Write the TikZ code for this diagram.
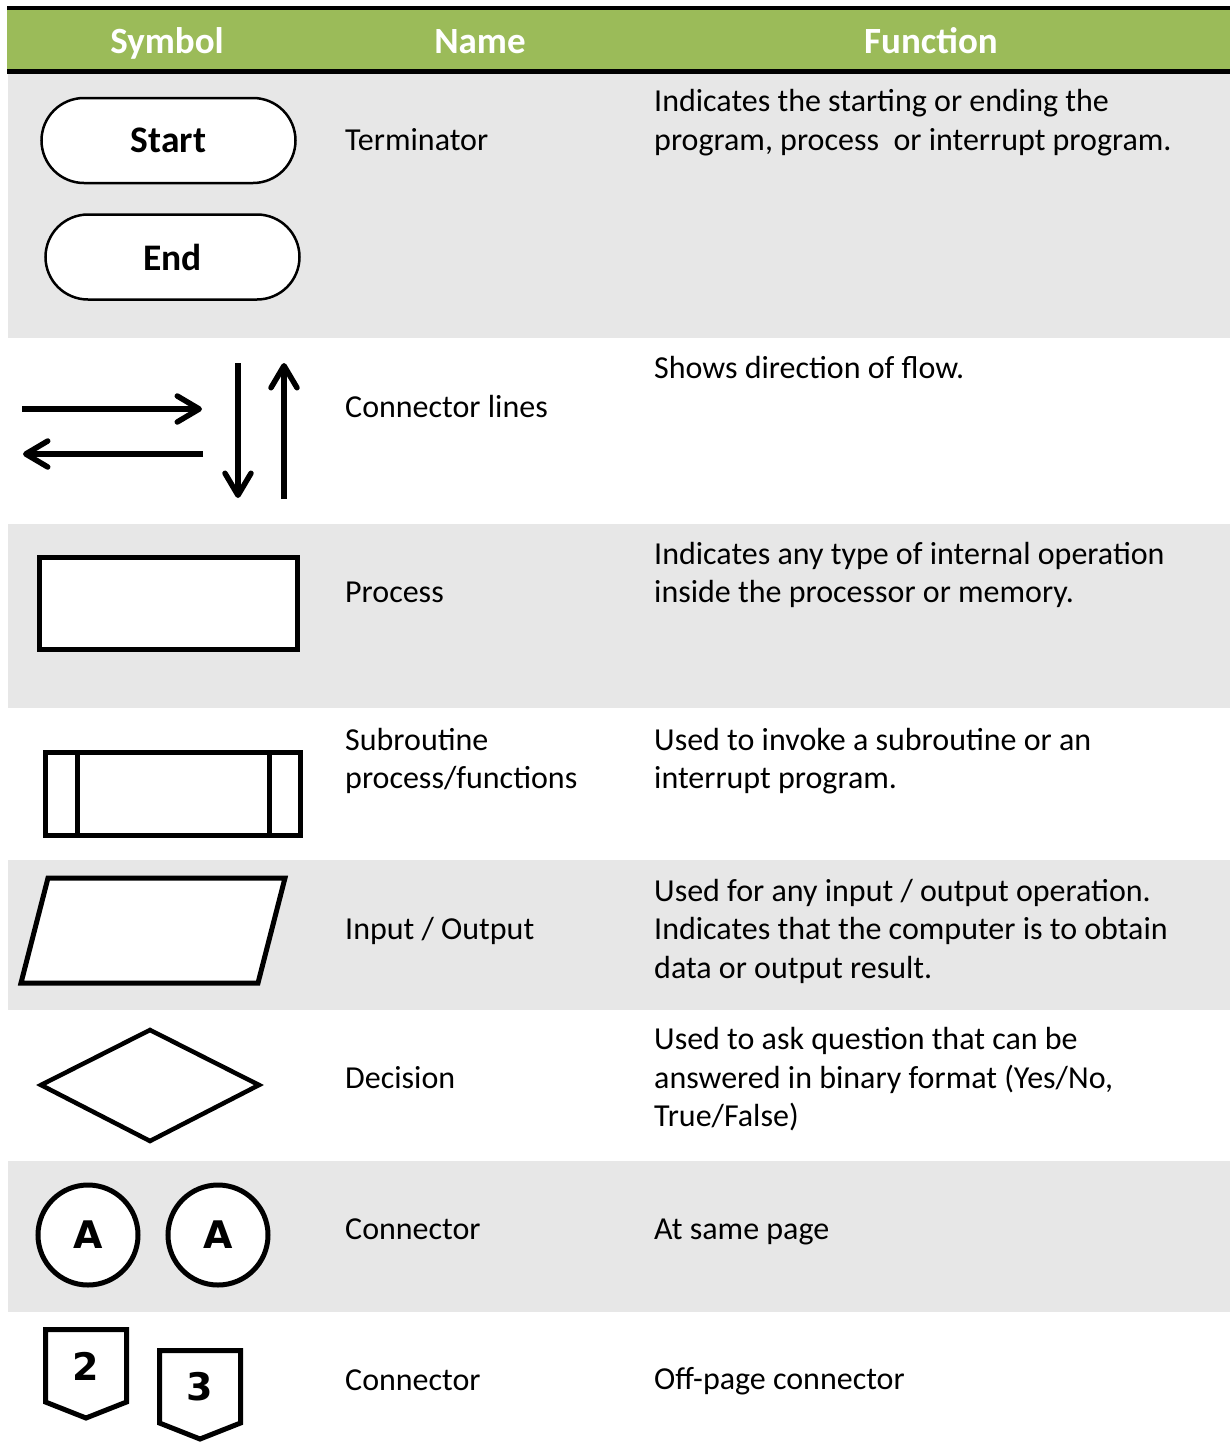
\documentclass[tikz,border=0pt]{standalone}
\usepackage{fontspec}
\setmainfont{Carlito}
\newfontfamily\symfont{DejaVu Sans}
\usetikzlibrary{arrows.meta,shapes.misc}
\definecolor{headgreen}{RGB}{155,187,89}
\definecolor{rowgray}{RGB}{231,231,231}

\begin{document}
\begin{tikzpicture}[x=1pt,y=-1pt,
  body/.style={anchor=base west, inner sep=0pt, font=\fontsize{32}{38}\selectfont},
  head/.style={anchor=base, inner sep=0pt, text=white, font=\fontsize{37}{44}\selectfont\bfseries},
  outline/.style={draw=black, line width=5pt, fill=white, line join=miter},
  term/.style={draw=black, line width=2.5pt, fill=white, rounded rectangle,
    minimum width=254pt, minimum height=85pt, inner sep=0pt,
    font=\fontsize{37.5}{44}\selectfont\bfseries},
  conn/.style={draw=black, line width=5pt, fill=white, circle, minimum size=100pt,
    inner sep=0pt, font=\symfont\bfseries\fontsize{38}{44}\selectfont},
  pagetext/.style={anchor=base, inner sep=0pt, font=\symfont\bfseries\fontsize{38}{44}\selectfont},
  flow/.style={line width=5.5pt, -{Straight Barb[length=22pt,width=26pt,round]}},
]
\useasboundingbox (0,0) rectangle (1230,1454);

% row shading
\fill[rowgray] (8,74) rectangle (1230,338);
\fill[rowgray] (8,524) rectangle (1230,708);
\fill[rowgray] (8,860) rectangle (1230,1010);
\fill[rowgray] (8,1161) rectangle (1230,1312);

% header band
\fill[headgreen] (7,10) rectangle (1230,69);
\fill[black] (7,6) rectangle (1230,10);
\fill[black] (7,69) rectangle (1230,74);
\node[head] (hsym) at (167,53) {Symbol};
\node[head] (hname) at (480,53) {Name};
\node[head] (hfun) at (931,53) {Function};

% terminators
\node[term] (start) at (168.5,140.5) {Start};
\node[term] (end) at (172.5,257) {End};

% connector lines
\coordinate (ra) at (22,409);
\coordinate (rb) at (202,409);
\coordinate (la) at (203,454);
\coordinate (lb) at (23,454);
\coordinate (da) at (238,363);
\coordinate (db) at (238,498);
\coordinate (ua) at (284,499);
\coordinate (ub) at (284,363);
\draw[flow] (ra) -- (rb);
\draw[flow] (la) -- (lb);
\draw[flow] (da) -- (db);
\draw[flow] (ua) -- (ub);

% process
\draw[outline] (39.5,557.5) rectangle (297.5,649.5);

% subroutine
\draw[outline] (45.5,752.5) rectangle (300.5,835.5);
\draw[line width=5pt] (77.5,752.5) -- (77.5,835.5);
\draw[line width=5pt] (269.5,752.5) -- (269.5,835.5);

% input / output
\draw[outline] (48,878) -- (285,878) -- (258,983) -- (21,983) -- cycle;

% decision
\draw[outline, line width=4.5pt] (41,1085) -- (150,1030) -- (259,1085) -- (150,1141) -- cycle;

% on-page connectors
\node[conn] (ca) at (88,1235) {A};
\node[conn] (cb) at (218,1235) {A};

% off-page connectors
\draw[outline] (45.5,1329.5) -- (126.5,1329.5) -- (126.5,1402) -- (86,1418) -- (45.5,1402) -- cycle;
\node[pagetext] (p2) at (86,1380) {2};
\draw[outline] (159.5,1350.5) -- (240.5,1350.5) -- (240.5,1423) -- (200,1439) -- (159.5,1423) -- cycle;
\node[pagetext] (p3) at (200,1400) {3};

% names
\node[body] (n1) at (345,150) {Terminator};
\node[body] (n2) at (345,417) {Connector lines};
\node[body] (n3) at (345,602) {Process};
\node[body] (n4a) at (345,750) {Subroutine};
\node[body] (n4b) at (345,788) {process/functions};
\node[body] (n5) at (345,939) {Input / Output};
\node[body] (n6) at (345,1088) {Decision};
\node[body] (n7) at (345,1239) {Connector};
\node[body] (n8) at (345,1390) {Connector};

% functions
\node[body] (f1a) at (654,111) {Indicates the starting or ending the};
\node[body] (f1b) at (654,150) {program, process\ \ or interrupt program.};
\node[body] (f2) at (654,378) {Shows direction of flow.};
\node[body] (f3a) at (654,564) {Indicates any type of internal operation};
\node[body] (f3b) at (654,602) {inside the processor or memory.};
\node[body] (f4a) at (654,750) {Used to invoke a subroutine or an};
\node[body] (f4b) at (654,788) {interrupt program.};
\node[body] (f5a) at (654,901) {Used for any input / output operation.};
\node[body] (f5b) at (654,939) {Indicates that the computer is to obtain};
\node[body] (f5c) at (654,978) {data or output result.};
\node[body] (f6a) at (654,1049) {Used to ask question that can be};
\node[body] (f6b) at (654,1088) {answered in binary format (Yes/No,};
\node[body] (f6c) at (654,1126) {True/False)};
\node[body] (f7) at (654,1239) {At same page};
\node[body] (f8) at (654,1389) {Off-page connector};
\end{tikzpicture}
\end{document}
